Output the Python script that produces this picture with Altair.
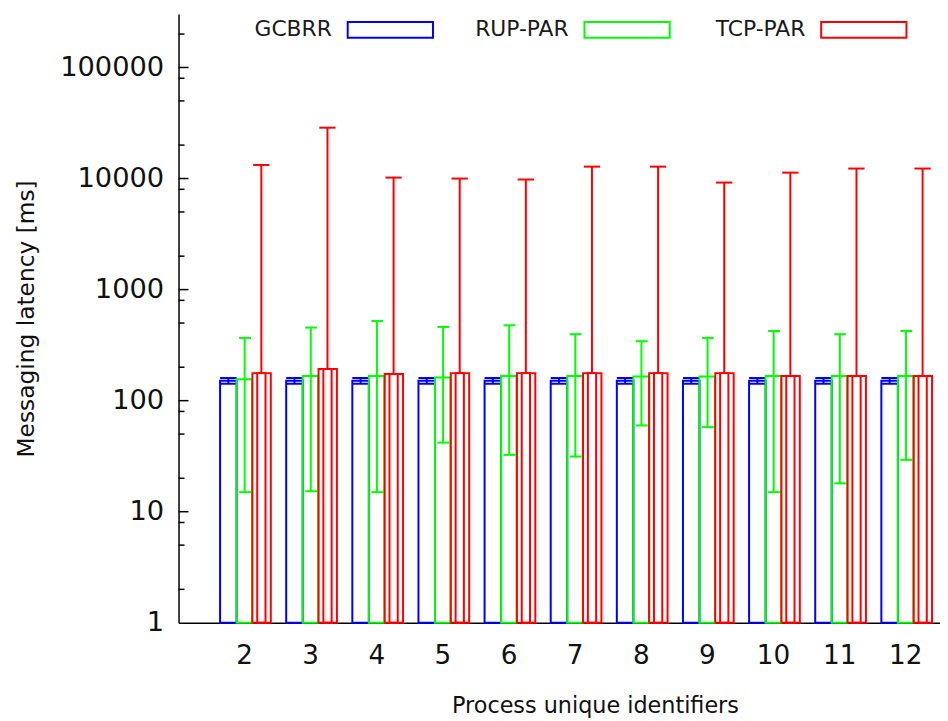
import altair as alt
import pandas as pd

# ---------------- data ----------------
PIDS = [2, 3, 4, 5, 6, 7, 8, 9, 10, 11, 12]
SERIES = ["GCBRR", "RUP-PAR", "TCP-PAR"]

GCBRR_MEAN = [151, 151, 151, 151, 151, 151, 151, 151, 151, 151, 151]
GCBRR_LO = [142, 142, 142, 142, 142, 142, 142, 142, 142, 142, 142]
GCBRR_HI = [160, 160, 160, 160, 160, 160, 160, 160, 160, 160, 160]

RUP_MEAN = [156, 167, 167, 162, 167, 167, 165, 165, 167, 167, 167]
RUP_LO = [15.0, 15.3, 15.0, 41.9, 32.5, 31.4, 59.8, 57.8, 15.0, 18.0, 29.3]
RUP_HI = [367, 455, 521, 461, 477, 397, 343, 367, 424, 397, 424]

TCP_MEAN = [177, 193, 174, 177, 177, 177, 177, 177, 167, 167, 167]
TCP_HI = [13250, 28700, 10200, 10000, 9800, 12800, 12800, 9200, 11300, 12300, 12300]

MAJOR_TICKS = [1, 10, 100, 1000, 10000, 100000]
MINOR_TICKS = [2, 5, 8, 20, 50, 80, 200, 500, 800, 2000, 5000, 8000,
               20000, 50000, 80000, 200000]

COLORS = ["#0000ff", "#00ff00", "#ff0000"]

# ---------------- table ----------------
rows = []
for i, p in enumerate(PIDS):
    rows.append(dict(pid=p, series="GCBRR", mean=GCBRR_MEAN[i], lo=GCBRR_LO[i], hi=GCBRR_HI[i]))
    rows.append(dict(pid=p, series="RUP-PAR", mean=RUP_MEAN[i], lo=RUP_LO[i], hi=RUP_HI[i]))
    rows.append(dict(pid=p, series="TCP-PAR", mean=TCP_MEAN[i], lo=TCP_MEAN[i], hi=TCP_HI[i]))
df = pd.DataFrame(rows)

FONT = "DejaVu Sans"
X_SCALE = alt.Scale(domain=[1.01, 12.525], nice=False, zero=False)
Y_SCALE = alt.Scale(type="log", domain=[1, 303000], nice=False)

# geometry of each series inside a group (in x units), style only
GEOM = {
    "GCBRR": dict(bar=(-0.362, -0.112), center=-0.237, cap=(-0.362, -0.112)),
    "RUP-PAR": dict(bar=(-0.112, 0.123), center=0.01, cap=(-0.075, 0.105)),
    "TCP-PAR": dict(bar=(0.127, 0.405), center=0.262, cap=(0.138, 0.385)),
}

base = alt.Chart(df)

# layer that carries the axes
axes_layer = base.mark_point(opacity=0).encode(
    x=alt.X("pid:Q", scale=X_SCALE,
            axis=alt.Axis(values=PIDS, title="Process unique identifiers",
                          labelPadding=20, titleX=420, titleY=83,
                          titleAlign="center", titleBaseline="middle")),
    y=alt.Y("mean:Q", scale=Y_SCALE,
            axis=alt.Axis(values=MAJOR_TICKS, title="Messaging latency [ms]",
                          labelPadding=15, titlePadding=21)),
)
layers = [axes_layer]

for k, s in enumerate(SERIES):
    g = GEOM[s]
    c = COLORS[k]
    sub = base.transform_filter(alt.datum.series == s).transform_calculate(
        xa=f"datum.pid + ({g['bar'][0]})",
        xb=f"datum.pid + ({g['bar'][1]})",
        xc=f"datum.pid + ({g['center']})",
        ca=f"datum.pid + ({g['cap'][0]})",
        cb=f"datum.pid + ({g['cap'][1]})",
        ia="datum.pid + 0.2",
        ib="datum.pid + 0.325",
    )
    bar = sub.mark_bar(filled=False, color=c, strokeWidth=2).encode(
        x=alt.X("xa:Q", scale=X_SCALE), x2="xb:Q",
        y=alt.Y("mean:Q", scale=Y_SCALE), y2=alt.datum(1))
    layers.append(bar)
    if s == "TCP-PAR":
        inner = sub.mark_bar(filled=False, color=c, strokeWidth=2).encode(
            x=alt.X("ia:Q", scale=X_SCALE), x2="ib:Q",
            y=alt.Y("mean:Q", scale=Y_SCALE), y2=alt.datum(1))
        layers.append(inner)
    err = sub.mark_rule(color=c, strokeWidth=2).encode(
        x=alt.X("xc:Q", scale=X_SCALE),
        y=alt.Y("lo:Q", scale=Y_SCALE), y2="hi:Q")
    layers.append(err)
    cap_hi = sub.mark_rule(color=c, strokeWidth=2).encode(
        x=alt.X("ca:Q", scale=X_SCALE), x2="cb:Q",
        y=alt.Y("hi:Q", scale=Y_SCALE))
    layers.append(cap_hi)
    if s != "TCP-PAR":
        cap_lo = sub.mark_rule(color=c, strokeWidth=2).encode(
            x=alt.X("ca:Q", scale=X_SCALE), x2="cb:Q",
            y=alt.Y("lo:Q", scale=Y_SCALE))
        layers.append(cap_lo)

# inward y ticks
major = alt.Chart(pd.DataFrame({"v": MAJOR_TICKS[1:]})).mark_rule(
    color="black", strokeWidth=1.5).encode(
    y=alt.Y("v:Q", scale=Y_SCALE), x=alt.value(0), x2=alt.value(10))
minor = alt.Chart(pd.DataFrame({"v": MINOR_TICKS})).mark_rule(
    color="black", strokeWidth=1.5).encode(
    y=alt.Y("v:Q", scale=Y_SCALE), x=alt.value(0), x2=alt.value(6))
layers += [major, minor]

# legend (labels left of the box, as in the reference); placed in x units
leg_df = pd.DataFrame({"series": SERIES})
leg = alt.Chart(leg_df).transform_calculate(
    idx="indexof(['GCBRR','RUP-PAR','TCP-PAR'], datum.series)",
    lx="4.213 + 3.58 * datum.idx",
)
swatch = leg.mark_point(
    shape="M-1,-0.186L1,-0.186L1,0.186L-1,0.186Z", size=7396, filled=False,
    strokeWidth=2, opacity=1).encode(
    x=alt.X("lx:Q", scale=X_SCALE), y=alt.value(16),
    color=alt.Color("series:N", scale=alt.Scale(domain=SERIES, range=COLORS), legend=None))
leg_text = leg.mark_text(
    align="right", baseline="middle", dx=-59, font=FONT, fontSize=22, color="#1a1a1a").encode(
    x=alt.X("lx:Q", scale=X_SCALE), y=alt.value(15), text="series:N")
layers += [swatch, leg_text]

chart = alt.layer(*layers).properties(
    width=768, height=614,
    autosize=alt.AutoSizeParams(type="none"),
    padding={"left": 172, "top": 3, "right": 0, "bottom": 96},
    background="white",
).configure_view(stroke=None).configure_axis(
    grid=False, ticks=False, domainColor="black", domainWidth=1.5,
    labelFont=FONT, labelColor="#111",
    labelFlush=False, labelOverlap=False, format="d",
    titleFont=FONT, titleFontWeight="normal", titleColor="#111",
).configure_axisX(titleFontSize=22.5, labelFontSize=26.5).configure_axisY(
    titleFontSize=23.5, labelFontSize=27.5)

chart.save("out.html", embed_options={"renderer": "svg", "actions": False})
